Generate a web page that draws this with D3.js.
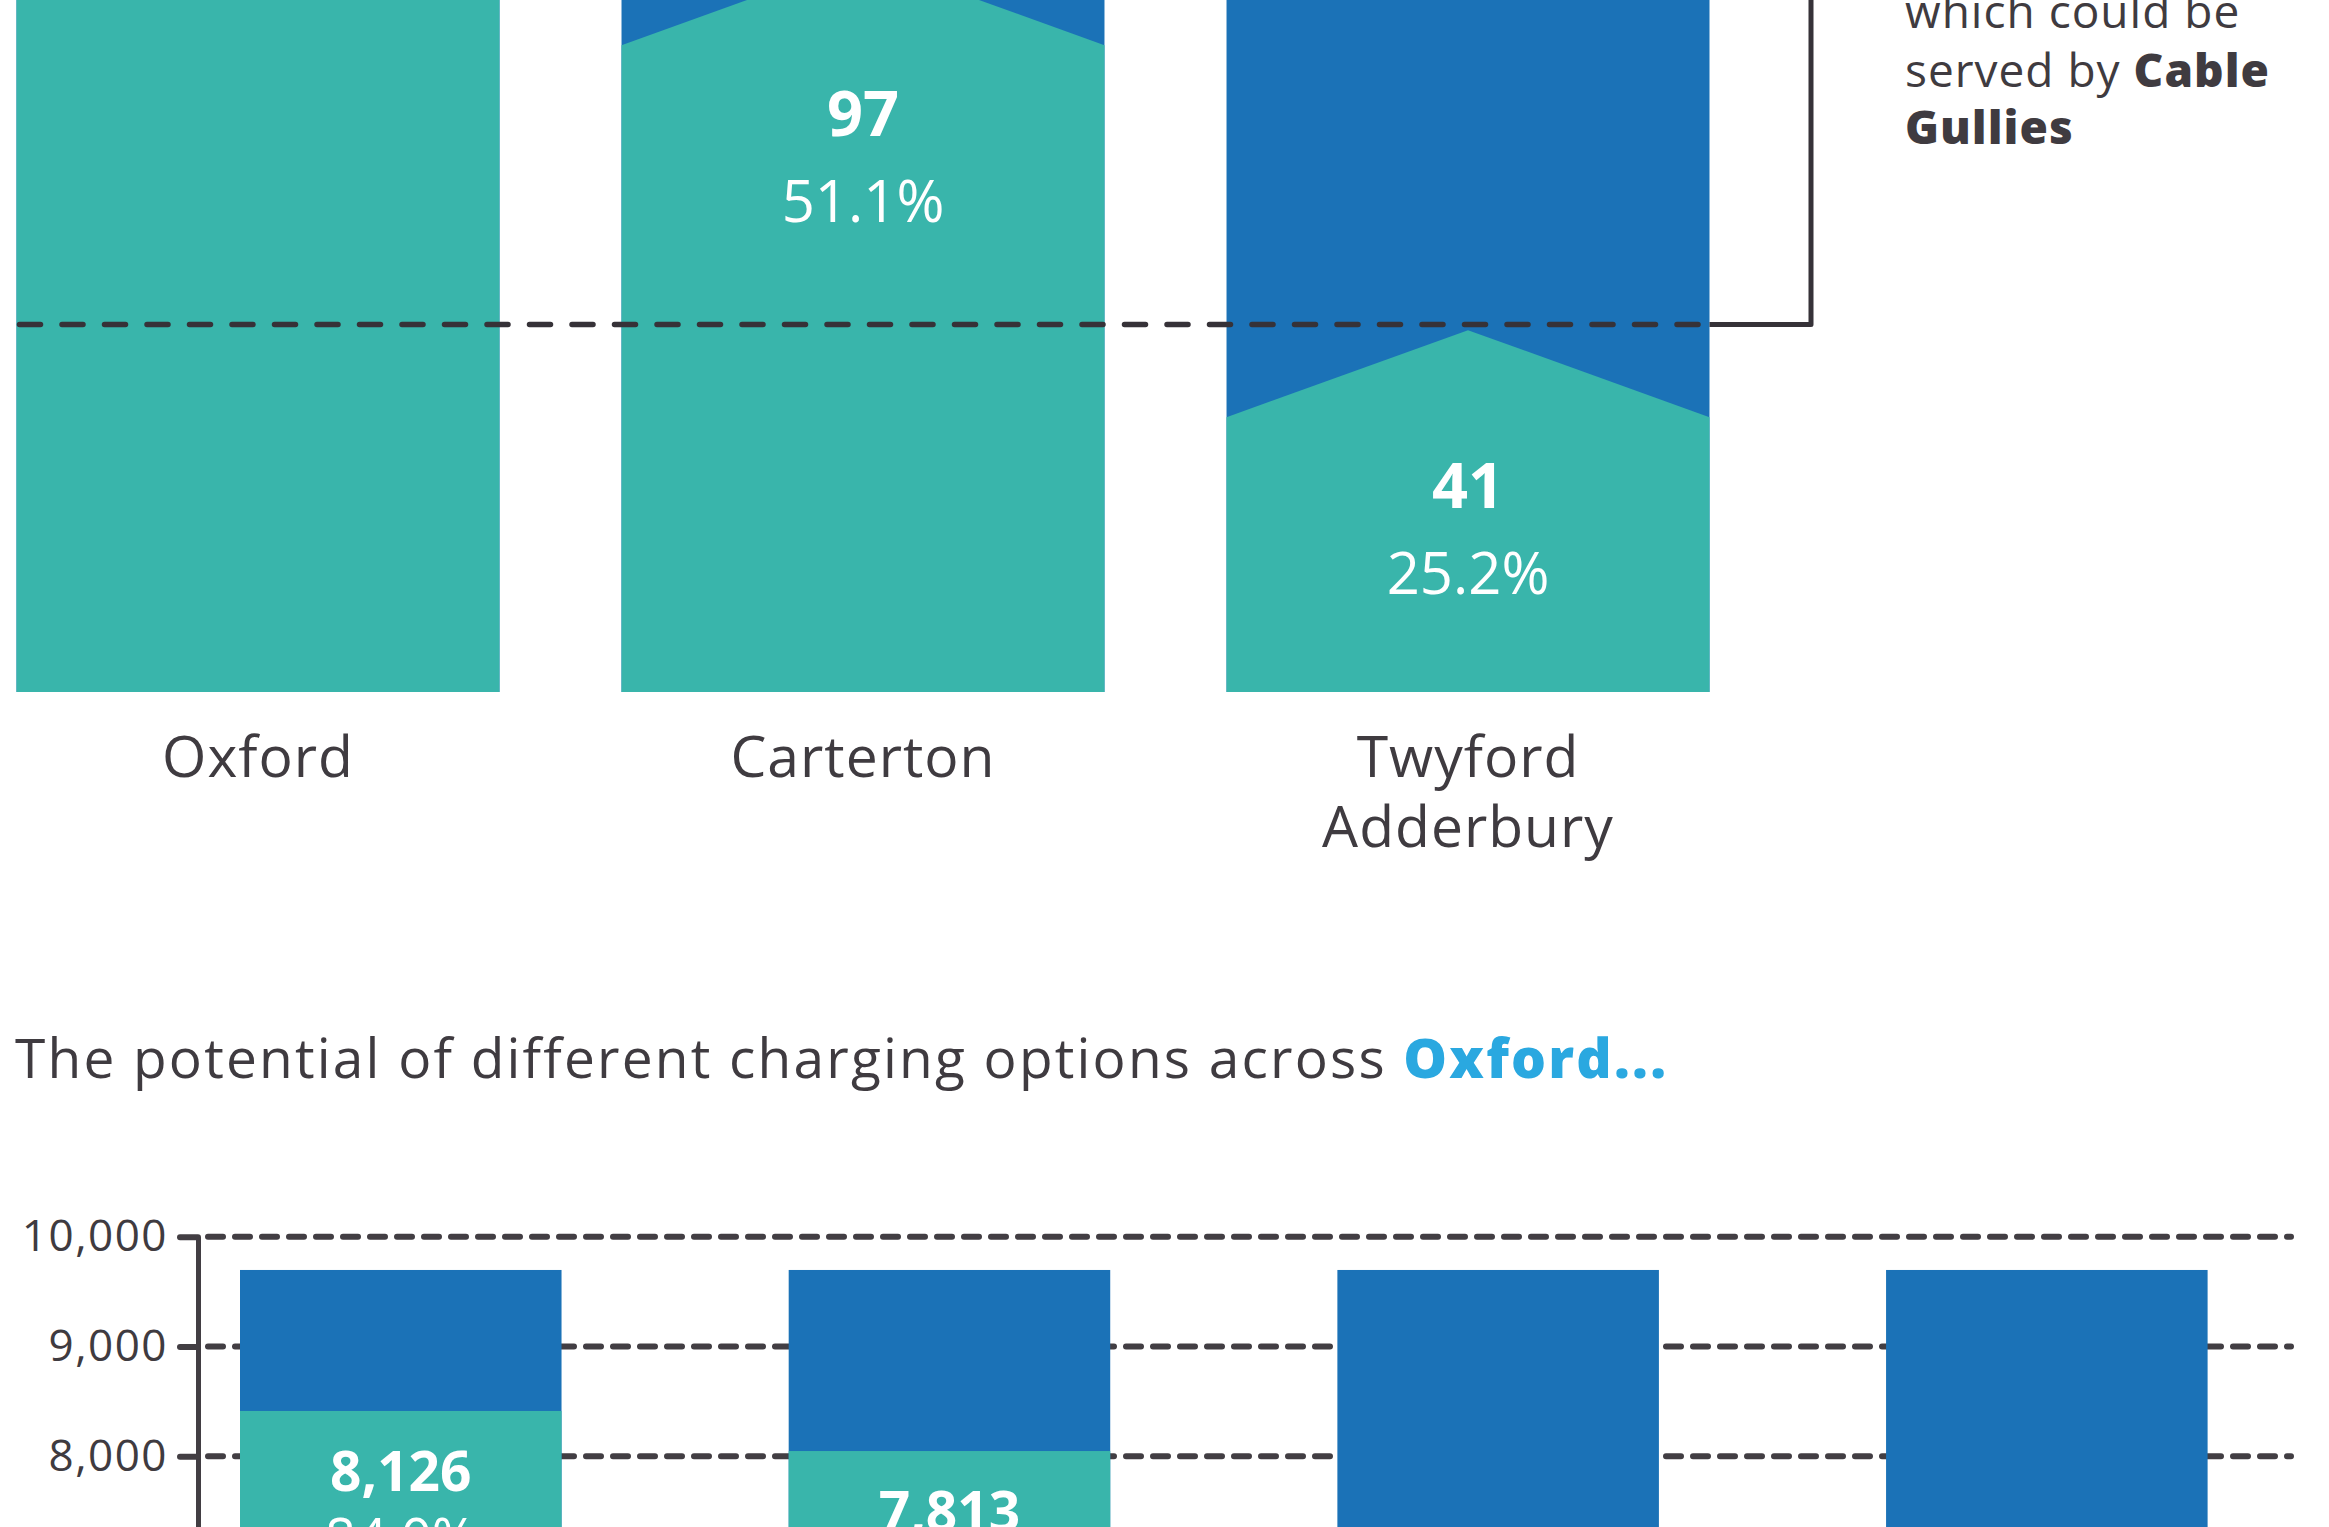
<!DOCTYPE html>
<html>
<head>
<meta charset="utf-8">
<script src="https://cdn.jsdelivr.net/npm/d3@7"></script>
<style>
  body { margin: 0; background: #fff; }
  text { font-family: "Open Sans", sans-serif; }
</style>
</head>
<body>
<script>
// top chart: share of on-street households per town
const topCats = ["Oxford", "Carterton", "Twyford Adderbury"];
const topCatLines = [["Oxford"], ["Carterton"], ["Twyford", "Adderbury"]];
const topShare = [78, 51.1, 25.2];      // Oxford peak is above the crop, estimated
const topCount = [null, 97, 41];
const cableGullyShare = 25.6;           // dashed reference line

// bottom chart: charging options across Oxford
const optionKeys = ["Option 1", "Option 2", "Option 3", "Option 4"];
const optionTotal = [9697, 9697, 9697, 9697];
const optionTeal = [8413, 8048, 7150, 6900];   // 3 and 4 below the crop, estimated
const optionCount = [8126, 7813, null, null];
const optionShare = [84.0, 80.8, null, null];
const yTicks = d3.range(0, 10001, 1000);

const W = 2329, H = 1527;
const teal = "#39b5ab", blue = "#1b72b7", ink = "#3f3b40", lineCol = "#363238";

const svg = d3.select("body").append("svg")
    .attr("width", W)
    .attr("height", H)
    .style("display", "block");

// ---------- top chart ----------
const base = 692;
const xTop = d3.scaleBand().domain(topCats).range([16.5, 1709.5]).paddingInner(0.2017).paddingOuter(0);
const yTop = d3.scaleLinear().domain([0, 100]).range([base, base - 1436]);
const notch = 87;

const topG = svg.append("g");
topCats.forEach((c, i) => {
    const x0 = xTop(c), x1 = x0 + xTop.bandwidth(), xc = x0 + xTop.bandwidth() / 2;
    const peak = yTop(topShare[i]);
    const side = peak + notch;
    topG.append("rect")
        .attr("x", x0).attr("y", yTop(100))
        .attr("width", xTop.bandwidth()).attr("height", base - yTop(100))
        .attr("fill", blue);
    topG.append("path")
        .attr("d", `M${x0},${base}V${side}L${xc},${peak}L${x1},${side}V${base}Z`)
        .attr("fill", teal);
    if (topCount[i] != null) {
        topG.append("text")
            .attr("x", xc).attr("y", side + 91)
            .attr("text-anchor", "middle")
            .attr("font-size", 63).attr("font-weight", 700).attr("fill", "#fff")
            .text(topCount[i]);
        topG.append("text")
            .attr("x", xc).attr("y", side + 177)
            .attr("text-anchor", "middle")
            .attr("font-size", 58).attr("fill", "#fff")
            .text(d3.format(".1f")(topShare[i]) + "%");
    }
    topCatLines[i].forEach((ln, j) => {
        topG.append("text")
            .attr("x", xc).attr("y", 777 + j * 70)
            .attr("text-anchor", "middle")
            .attr("font-size", 57).attr("letter-spacing", 1).attr("fill", ink)
            .text(ln);
    });
});

// reference line + bracket to annotation
const yRef = yTop(cableGullyShare);
const xEnd = xTop.range()[1];
topG.append("line")
    .attr("x1", 19.5).attr("x2", xEnd)
    .attr("y1", yRef).attr("y2", yRef)
    .attr("stroke", lineCol).attr("stroke-width", 5.5)
    .attr("stroke-linecap", "round")
    .attr("stroke-dasharray", "21 21.5");
topG.append("path")
    .attr("d", `M${xEnd},${yRef}H1811V-10`)
    .attr("fill", "none")
    .attr("stroke", lineCol).attr("stroke-width", 5)
    .attr("stroke-linejoin", "round");

const note = svg.append("text")
    .attr("font-size", 46).attr("letter-spacing", 1).attr("fill", ink);
note.append("tspan").attr("x", 1905).attr("y", 28).text("which could be");
const l2 = note.append("tspan").attr("x", 1905).attr("y", 87);
l2.append("tspan").text("served by ");
l2.append("tspan").attr("font-weight", 800).text("Cable");
note.append("tspan").attr("x", 1905).attr("y", 144).attr("font-weight", 800).text("Gullies");

// ---------- title ----------
const title = svg.append("text")
    .attr("x", 15).attr("y", 1078)
    .attr("font-size", 55).attr("letter-spacing", 2.2).attr("fill", ink);
title.append("tspan").text("The potential of different charging options across ");
title.append("tspan").attr("font-weight", 800).attr("fill", "#2aa8e0").text("Oxford...");

// ---------- bottom chart ----------
const yBot = d3.scaleLinear().domain([0, 10000]).range([1236.7 + 1098, 1236.7]);
const xBot = d3.scaleBand().domain(optionKeys).range([240, 2207.6]).paddingInner(0.414).paddingOuter(0);

const grid = svg.append("g");
grid.selectAll("line")
    .data(yTicks)
    .join("line")
    .attr("x1", 208).attr("x2", 2291)
    .attr("y1", d => yBot(d)).attr("y2", d => yBot(d))
    .attr("stroke", "#423e43").attr("stroke-width", 6)
    .attr("stroke-linecap", "round")
    .attr("stroke-dasharray", "15 12");

const bars = svg.append("g");
optionKeys.forEach((k, i) => {
    const x = xBot(k), bw = xBot.bandwidth(), xc = x + bw / 2;
    bars.append("rect")
        .attr("x", x).attr("y", yBot(optionTotal[i]))
        .attr("width", bw).attr("height", yBot(0) - yBot(optionTotal[i]))
        .attr("fill", blue);
    const tTop = yBot(optionTeal[i]);
    bars.append("rect")
        .attr("x", x).attr("y", tTop)
        .attr("width", bw).attr("height", yBot(0) - tTop)
        .attr("fill", teal);
    if (optionCount[i] != null) {
        bars.append("text")
            .attr("x", xc).attr("y", tTop + 80)
            .attr("text-anchor", "middle")
            .attr("font-size", 55).attr("font-weight", 700).attr("fill", "#fff")
            .text(d3.format(",")(optionCount[i]));
        bars.append("text")
            .attr("x", xc).attr("y", tTop + 146)
            .attr("text-anchor", "middle")
            .attr("font-size", 54).attr("fill", "#fff")
            .text(d3.format(".1f")(optionShare[i]) + "%");
    }
});

const axis = svg.append("g")
    .attr("transform", "translate(198,0)")
    .call(d3.axisLeft(yBot).tickValues(yTicks).tickFormat(d3.format(","))
        .tickSize(18).tickSizeOuter(0).tickPadding(12));
axis.select(".domain").attr("stroke", "#423e43").attr("stroke-width", 5);
axis.selectAll(".tick line").attr("stroke", "#423e43").attr("stroke-width", 6).attr("stroke-linecap", "round");
axis.selectAll(".tick text")
    .attr("font-size", 44).attr("letter-spacing", 1.5).attr("fill", ink)
    .style("font-family", "'Open Sans', sans-serif");
</script>
</body>
</html>
